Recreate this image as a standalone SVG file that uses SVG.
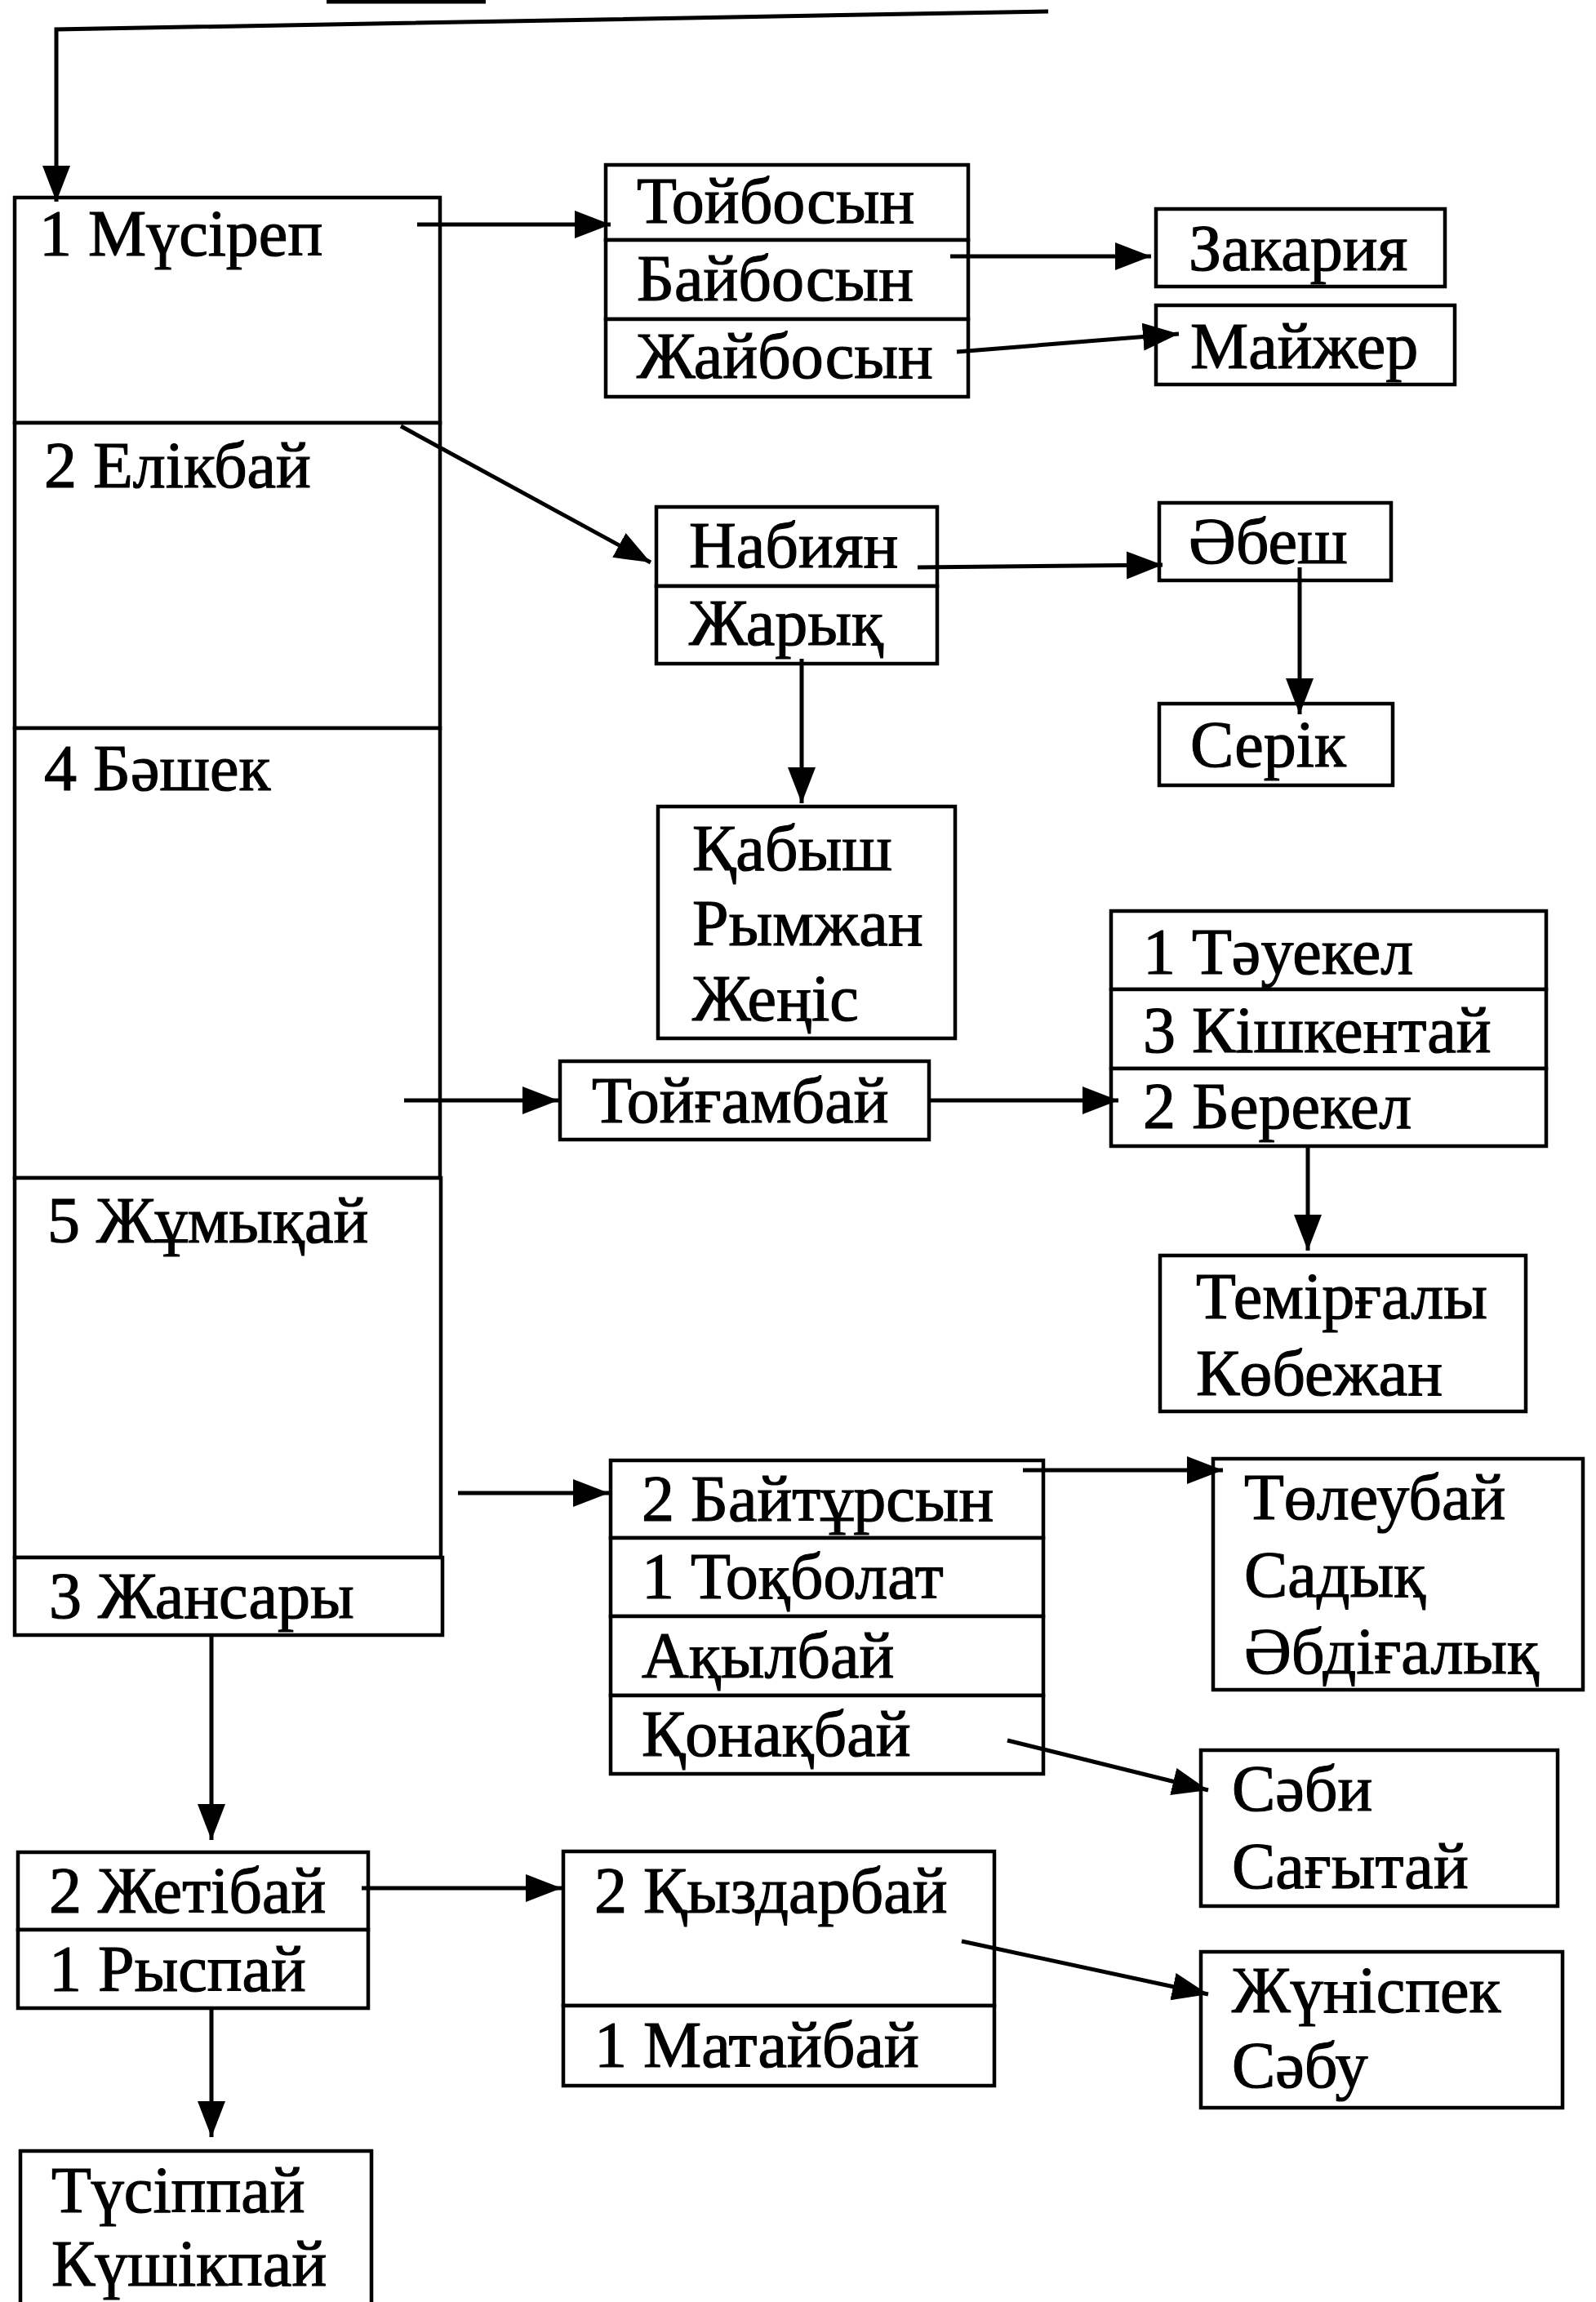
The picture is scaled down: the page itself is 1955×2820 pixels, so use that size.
<svg xmlns="http://www.w3.org/2000/svg" width="1955" height="2820" viewBox="0 0 1955 2820">
<style>
.b{fill:#fff;stroke:#000;stroke-width:4.5}
.t{font-family:"Liberation Serif","Times New Roman",serif;font-size:80px;fill:#000;stroke:#000;stroke-width:1.2}
.c{fill:none;stroke:#000;stroke-width:5}
</style>
<defs>
<marker id="ah" markerUnits="userSpaceOnUse" markerWidth="48" markerHeight="38" refX="44" refY="17" orient="auto">
<path d="M0,0 L44,17 L0,34 z" fill="#000"/>
</marker>
</defs>
<rect width="1955" height="2820" fill="#fff"/>

<g id="main">
<g id="n-musirep"><rect class="b" x="18" y="242" width="521" height="276"/><text class="t" x="48" y="313">1 Мүсіреп</text></g>
<g id="n-elikbai"><rect class="b" x="18" y="518" width="521" height="374"/><text class="t" x="54" y="597">2 Елікбай</text></g>
<g id="n-bashek"><rect class="b" x="18" y="892" width="521" height="551"/><text class="t" x="54" y="968">4 Бәшек</text></g>
<g id="n-zhumykai"><rect class="b" x="18" y="1443" width="522" height="465"/><text class="t" x="58" y="1522">5 Жұмықай</text></g>
<g id="n-zhansary"><rect class="b" x="18" y="1908" width="524" height="95"/><text class="t" x="60" y="1982">3 Жансары</text></g>
</g>

<g id="n-toibosyn">
<rect class="b" x="742" y="202" width="444" height="92"/><text class="t" x="780" y="273">Тойбосын</text>
<rect class="b" x="742" y="294" width="444" height="97"/><text class="t" x="780" y="368">Байбосын</text>
<rect class="b" x="742" y="391" width="444" height="95"/><text class="t" x="780" y="463">Жайбосын</text>
</g>
<g id="n-zakariya"><rect class="b" x="1416" y="256" width="354" height="95"/><text class="t" x="1456" y="331">Закария</text></g>
<g id="n-maizher"><rect class="b" x="1416" y="374" width="366" height="97"/><text class="t" x="1458" y="451">Майжер</text></g>

<g id="n-nabiyan">
<rect class="b" x="804" y="621" width="344" height="97"/><text class="t" x="844" y="695">Набиян</text>
<rect class="b" x="804" y="718" width="344" height="95"/><text class="t" x="844" y="790">Жарық</text>
</g>
<g id="n-abesh"><rect class="b" x="1420" y="616" width="284" height="95"/><text class="t" x="1456" y="690">Әбеш</text></g>
<g id="n-serik"><rect class="b" x="1420" y="862" width="286" height="100"/><text class="t" x="1458" y="939">Серік</text></g>
<g id="n-kabysh"><rect class="b" x="806" y="988" width="364" height="284"/>
<text class="t" x="848" y="1066">Қабыш</text><text class="t" x="848" y="1158">Рымжан</text><text class="t" x="848" y="1250">Жеңіс</text></g>

<g id="n-tauekel">
<rect class="b" x="1361" y="1116" width="533" height="96"/><text class="t" x="1400" y="1193">1 Тәуекел</text>
<rect class="b" x="1361" y="1212" width="533" height="97"/><text class="t" x="1400" y="1289">3 Кішкентай</text>
<rect class="b" x="1361" y="1309" width="533" height="95"/><text class="t" x="1400" y="1382">2 Берекел</text>
</g>
<g id="n-toigambai"><rect class="b" x="686" y="1300" width="452" height="96"/><text class="t" x="725" y="1375">Тойғамбай</text></g>
<g id="n-temirgaly"><rect class="b" x="1421" y="1538" width="448" height="191"/>
<text class="t" x="1465" y="1615">Темірғалы</text><text class="t" x="1465" y="1709">Көбежан</text></g>

<g id="n-baitursyn">
<rect class="b" x="748" y="1789" width="530" height="95"/><text class="t" x="786" y="1863">2 Байтұрсын</text>
<rect class="b" x="748" y="1884" width="530" height="96"/><text class="t" x="786" y="1958">1 Тоқболат</text>
<rect class="b" x="748" y="1980" width="530" height="97"/><text class="t" x="786" y="2055">Ақылбай</text>
<rect class="b" x="748" y="2077" width="530" height="96"/><text class="t" x="786" y="2151">Қонақбай</text>
</g>
<g id="n-toleubai"><rect class="b" x="1486" y="1787" width="453" height="283"/>
<text class="t" x="1524" y="1861">Төлеубай</text><text class="t" x="1524" y="1956">Садық</text><text class="t" x="1524" y="2050">Әбдіғалық</text></g>
<g id="n-sabi"><rect class="b" x="1471" y="2144" width="437" height="191"/>
<text class="t" x="1509" y="2218">Сәби</text><text class="t" x="1509" y="2313">Сағытай</text></g>

<g id="n-zhetibai">
<rect class="b" x="22" y="2269" width="429" height="95"/><text class="t" x="60" y="2343">2 Жетібай</text>
<rect class="b" x="22" y="2364" width="429" height="96"/><text class="t" x="60" y="2439">1 Рыспай</text>
</g>
<g id="n-kyzdarbai">
<rect class="b" x="690" y="2268" width="528" height="189"/><text class="t" x="728" y="2343">2 Қыздарбай</text>
<rect class="b" x="690" y="2457" width="528" height="98"/><text class="t" x="728" y="2532">1 Матайбай</text>
</g>
<g id="n-zhunispek"><rect class="b" x="1471" y="2391" width="443" height="191"/>
<text class="t" x="1509" y="2465">Жүніспек</text><text class="t" x="1509" y="2557">Сәбу</text></g>
<g id="n-tusippai"><rect class="b" x="25" y="2635" width="430" height="200"/>
<text class="t" x="63" y="2710">Түсіппай</text><text class="t" x="63" y="2800">Күшікпай</text></g>

<g id="connectors">
<line class="c" x1="400" y1="2" x2="595" y2="2"/>
<path class="c" d="M1284,14 L69,36 L69,247" marker-end="url(#ah)"/>
<line class="c" x1="511" y1="275" x2="748" y2="275" marker-end="url(#ah)"/>
<line class="c" x1="1164" y1="314" x2="1410" y2="314" marker-end="url(#ah)"/>
<line class="c" x1="1172" y1="431" x2="1444" y2="409" marker-end="url(#ah)"/>
<line class="c" x1="491" y1="522" x2="797" y2="689" marker-end="url(#ah)"/>
<line class="c" x1="1124" y1="695" x2="1424" y2="692" marker-end="url(#ah)"/>
<line class="c" x1="1592" y1="695" x2="1592" y2="875" marker-end="url(#ah)"/>
<line class="c" x1="982" y1="807" x2="982" y2="984" marker-end="url(#ah)"/>
<line class="c" x1="495" y1="1348" x2="684" y2="1348" marker-end="url(#ah)"/>
<line class="c" x1="1140" y1="1348" x2="1370" y2="1348" marker-end="url(#ah)"/>
<line class="c" x1="1602" y1="1404" x2="1602" y2="1532" marker-end="url(#ah)"/>
<line class="c" x1="561" y1="1829" x2="746" y2="1829" marker-end="url(#ah)"/>
<line class="c" x1="1253" y1="1801" x2="1498" y2="1801" marker-end="url(#ah)"/>
<line class="c" x1="1234" y1="2132" x2="1480" y2="2193" marker-end="url(#ah)"/>
<line class="c" x1="259" y1="2003" x2="259" y2="2254" marker-end="url(#ah)"/>
<line class="c" x1="443" y1="2313" x2="688" y2="2313" marker-end="url(#ah)"/>
<line class="c" x1="1178" y1="2378" x2="1480" y2="2443" marker-end="url(#ah)"/>
<line class="c" x1="259" y1="2460" x2="259" y2="2618" marker-end="url(#ah)"/>
</g>
</svg>
